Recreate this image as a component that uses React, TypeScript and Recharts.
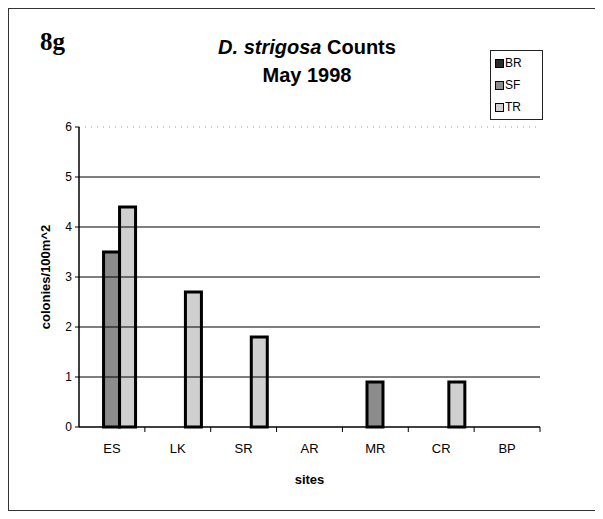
import { BarChart, Bar, XAxis, YAxis, Legend, ReferenceLine } from "recharts";

const sites = ["ES", "LK", "SR", "AR", "MR", "CR", "BP"];
const brCounts = [0, 0, 0, 0, 0, 0, 0];
const sfCounts = [3.5, 0, 0, 0, 0.9, 0, 0];
const trCounts = [4.4, 2.7, 1.8, 0, 0, 0.9, 0];
const yTicks = [0, 1, 2, 3, 4, 5, 6];
const gridValues = [1, 2, 3, 4, 5];

const data = sites.map((site, i) => ({
  site,
  BR: brCounts[i],
  SF: sfCounts[i],
  TR: trCounts[i],
}));

const FONT = "'Liberation Sans', Arial, sans-serif";

// category label plus the little tick mark at the right edge of its band
const SiteTick = (props: any) => {
  const { x, y, payload, width, visibleTicksCount } = props;
  const half = visibleTicksCount ? width / visibleTicksCount / 2 : 33;
  return (
    <g>
      <line x1={x + half} x2={x + half} y1={y - 17} y2={y - 12} stroke="#000" />
      <text x={x} y={y} dy="0.71em" textAnchor="middle" fill="#000" fontSize={13} fontFamily={FONT}>
        {payload.value}
      </text>
    </g>
  );
};

const LegendBox = (props: any) => {
  const items = props.payload || [];
  return (
    <div
      style={{
        border: "1px solid #222",
        width: 53,
        height: 70,
        boxSizing: "border-box",
        padding: "1px 0 0 4px",
        fontFamily: FONT,
        fontSize: 12,
        background: "#fff",
      }}
    >
      {items.map((it: any) => (
        <div key={it.value} style={{ display: "flex", alignItems: "center", height: 22 }}>
          <span
            style={{
              display: "inline-block",
              width: 7,
              height: 7,
              background: it.color,
              border: "1.5px solid #000",
              marginRight: 1,
            }}
          />
          <span>{it.value}</span>
        </div>
      ))}
    </div>
  );
};

const App = () => {
  return (
    <div
      style={{
        position: "relative",
        width: 588,
        height: 501,
        fontFamily: FONT,
        border: "1px solid #333",
        background: "#fff",
      }}
    >
      <div
        style={{
          position: "absolute",
          left: 31,
          top: 19,
          fontFamily: "'Liberation Serif', 'Times New Roman', serif",
          fontWeight: "bold",
          fontSize: 25,
        }}
      >
        8g
      </div>
      <div
        style={{
          position: "absolute",
          left: 147,
          width: 302,
          top: 24,
          textAlign: "center",
          fontWeight: "bold",
          fontSize: 20,
          lineHeight: "28px",
        }}
      >
        <div>
          <i>D. strigosa</i> Counts
        </div>
        <div>May 1998</div>
      </div>
      <div style={{ position: "absolute", left: -3, top: -4 }}>
        <BarChart
          width={590}
          height={504}
          data={data}
          barCategoryGap="13%"
          barGap={0}
          margin={{ top: 122, right: 56, left: 33, bottom: 22 }}
        >
          <XAxis
            dataKey="site"
            tickLine={false}
            tickSize={6}
            tickMargin={11}
            axisLine={{ stroke: "#000", strokeWidth: 1.5 }}
            tick={<SiteTick />}
            height={60}
            label={{
              value: "sites",
              position: "insideBottom",
              offset: 3,
              style: { fill: "#000", fontSize: 13, fontWeight: "bold", fontFamily: FONT },
            }}
          />
          <YAxis
            domain={[0, 6]}
            ticks={yTicks}
            width={40}
            tickSize={4}
            tickMargin={3}
            tickLine={{ stroke: "#000" }}
            axisLine={{ stroke: "#000", strokeWidth: 1.5 }}
            tick={{ fill: "#000", fontSize: 12, fontFamily: FONT }}
            label={{
              value: "colonies/100m^2",
              angle: -90,
              position: "insideLeft",
              offset: 6,
              style: { textAnchor: "middle", fill: "#000", fontSize: 13, fontWeight: "bold", fontFamily: FONT },
            }}
          />
          <YAxis
            yAxisId="r"
            orientation="right"
            width={0}
            tick={false}
            tickLine={false}
            axisLine={{ stroke: "#999", strokeDasharray: "1 4" }}
          />
          {gridValues.map((v) => (
            <ReferenceLine key={v} y={v} stroke="#000" strokeWidth={1.2} />
          ))}
          <ReferenceLine y={6} stroke="#999" strokeDasharray="1 5" />
          <Legend
            layout="vertical"
            align="center"
            verticalAlign="middle"
            wrapperStyle={{ top: 45, left: 484, width: 53 }}
            content={<LegendBox />}
          />
          <Bar dataKey="BR" name="BR" fill="#2a2a2a" stroke="#000" strokeWidth={3} isAnimationActive={false} />
          <Bar dataKey="SF" name="SF" fill="#8c8c8c" stroke="#000" strokeWidth={3} isAnimationActive={false} />
          <Bar dataKey="TR" name="TR" fill="#d0d0d0" stroke="#000" strokeWidth={3} isAnimationActive={false} />
        </BarChart>
      </div>
    </div>
  );
};

export default App;
